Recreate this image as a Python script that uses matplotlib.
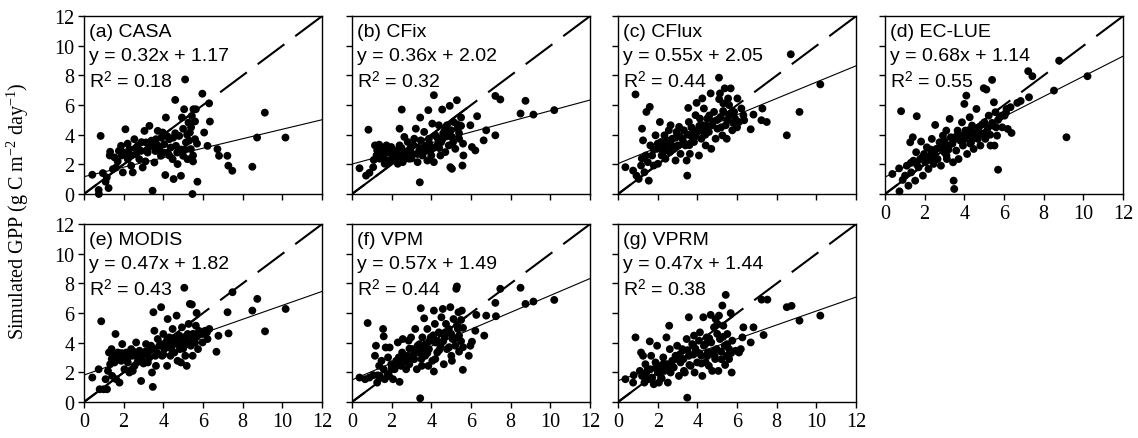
import matplotlib.pyplot as plt
import numpy as np

plt.rcParams['font.family'] = 'Liberation Serif'
plt.rcParams['mathtext.fontset'] = 'custom'
plt.rcParams['mathtext.rm'] = 'Liberation Serif'
plt.rcParams['mathtext.it'] = 'Liberation Serif:italic'
plt.rcParams['mathtext.sf'] = 'Liberation Sans'

# observed vs simulated GPP, one list of (obs, sim) pairs per model
casa = [(0.42, 1.30), (0.75, 0.00), (0.74, 0.27), (0.84, 3.92), (0.95, 1.41), (1.09, 0.83),
        (1.24, 0.40), (1.15, 1.12), (1.32, 2.85), (1.46, 1.68), (1.54, 2.47), (1.62, 1.79),
        (1.76, 2.91), (1.87, 3.25), (1.96, 1.46), (2.09, 4.37), (2.12, 2.69), (2.21, 2.35),
        (2.29, 3.03), (2.38, 1.91), (2.46, 1.46), (2.54, 3.70), (2.63, 2.69), (2.71, 3.25),
        (2.79, 2.35), (2.88, 2.91), (2.96, 1.79), (3.05, 4.26), (3.13, 3.48), (3.21, 2.80),
        (3.30, 4.60), (3.38, 3.25), (3.46, 0.22), (3.55, 2.13), (3.63, 3.70), (3.72, 4.26),
        (3.80, 3.03), (3.88, 2.58), (3.97, 4.15), (4.05, 3.36), (4.10, 1.28), (4.13, 5.16),
        (4.22, 2.80), (4.30, 3.70), (4.38, 3.14), (4.47, 2.35), (4.52, 1.01), (4.60, 6.35),
        (4.64, 3.25), (4.72, 2.02), (4.80, 3.92), (4.89, 1.23), (4.94, 5.16), (5.00, 2.58),
        (5.05, 5.72), (5.10, 7.73), (5.14, 3.48), (5.22, 2.35), (5.27, 4.82), (5.34, 4.15),
        (5.39, 3.03), (5.44, 5.27), (5.47, 0.00), (5.52, 5.72), (5.64, 5.72), (5.72, 0.83),
        (5.60, 3.70), (5.97, 6.77), (6.06, 4.15), (6.31, 6.12), (6.35, 4.89), (6.23, 3.25),
        (6.73, 3.03), (6.81, 2.58), (7.23, 2.58), (7.28, 1.91), (7.48, 1.57), (8.49, 1.84),
        (8.73, 3.81), (9.12, 5.49), (10.16, 3.81),
        (1.30, 2.60), (1.70, 2.20), (2.00, 2.80), (2.40, 2.60), (2.60, 3.10), (2.90, 3.50),
        (3.20, 3.00), (3.40, 3.60), (3.60, 2.90), (3.70, 3.30), (3.90, 3.80), (4.00, 2.80),
        (4.20, 3.90), (4.30, 2.60), (4.50, 3.80), (4.60, 4.10), (4.70, 2.80), (4.90, 3.00),
        (5.00, 4.40), (5.10, 3.00), (5.20, 4.00), (5.30, 3.60), (5.40, 4.50), (5.50, 2.60),
        (5.60, 4.90), (5.70, 3.40), (5.50, 2.20), (3.10, 2.20), (2.20, 3.40), (1.90, 2.60)]

cfix = [(0.38, 1.74), (0.71, 1.24), (0.88, 1.43), (0.83, 4.34), (1.07, 1.81), (1.16, 3.28),
        (1.24, 2.60), (1.27, 2.94), (1.37, 3.33), (1.40, 2.38), (1.54, 3.05), (1.60, 2.60),
        (1.65, 2.04), (1.74, 3.28), (1.82, 2.83), (1.90, 2.15), (1.98, 3.17), (2.07, 2.60),
        (2.15, 2.38), (2.23, 2.94), (2.31, 2.04), (2.40, 3.28), (2.40, 4.41), (2.48, 2.60),
        (2.51, 5.70), (2.56, 2.15), (2.64, 3.85), (2.73, 2.83), (2.81, 3.51), (2.89, 2.38),
        (2.98, 3.17), (3.06, 2.71), (3.14, 3.73), (3.22, 4.41), (3.31, 2.15), (3.39, 2.94),
        (3.42, 0.79), (3.44, 5.16), (3.47, 3.62), (3.55, 2.60), (3.64, 4.19), (3.72, 3.28),
        (3.80, 2.26), (3.85, 5.66), (3.88, 3.73), (3.97, 2.94), (4.05, 4.75), (4.13, 6.67),
        (4.13, 2.15), (4.21, 3.96), (4.30, 3.28), (4.38, 4.64), (4.46, 2.60), (4.55, 5.70),
        (4.58, 3.73), (4.68, 4.30), (4.71, 2.83), (4.79, 4.64), (4.88, 3.28), (4.93, 5.95),
        (4.96, 1.81), (5.04, 1.70), (5.04, 3.85), (5.12, 4.86), (5.21, 3.05), (5.29, 6.33),
        (5.34, 4.41), (5.40, 3.73), (5.50, 5.16), (5.57, 1.92), (5.62, 2.60), (5.97, 4.64),
        (6.05, 3.17), (6.22, 2.94), (6.31, 5.25), (6.64, 3.62), (6.77, 4.30), (7.23, 3.96),
        (7.23, 6.62), (7.48, 6.38), (8.50, 5.43), (8.75, 6.29), (9.15, 5.36), (10.20, 5.66),
        (1.30, 3.10), (1.50, 2.70), (1.70, 2.30), (1.90, 3.00), (2.10, 2.90), (2.30, 2.60),
        (2.50, 3.10), (2.70, 2.40), (2.90, 3.00), (3.10, 3.30), (3.30, 2.70), (3.50, 3.10),
        (3.70, 2.90), (3.90, 3.40), (4.10, 3.10), (4.30, 3.80), (4.50, 3.50), (4.60, 4.10),
        (4.80, 3.90), (5.00, 4.30), (5.10, 3.50), (5.30, 4.70), (5.40, 4.10), (5.50, 4.60),
        (5.60, 3.40), (1.10, 2.30), (2.00, 2.40), (3.00, 2.40), (4.00, 2.60), (4.40, 3.10)]

cflux = [(0.37, 1.81), (0.76, 1.58), (0.88, 6.72), (0.93, 1.24), (1.04, 1.02), (1.16, 1.92),
         (1.21, 4.41), (1.26, 3.62), (1.33, 1.47), (1.43, 5.54), (1.50, 2.15), (1.55, 0.90),
         (1.60, 5.88), (1.63, 3.28), (1.72, 2.60), (1.80, 1.92), (1.89, 3.96), (1.97, 3.05),
         (2.01, 2.04), (2.11, 4.86), (2.17, 3.51), (2.28, 2.83), (2.34, 3.96), (2.39, 2.38),
         (2.48, 3.28), (2.56, 4.30), (2.61, 2.83), (2.65, 4.64), (2.73, 3.73), (2.81, 3.05),
         (2.90, 2.26), (2.95, 4.19), (3.02, 3.28), (3.08, 4.53), (3.15, 2.71), (3.24, 3.73),
         (3.32, 4.30), (3.40, 3.28), (3.46, 2.26), (3.49, 1.24), (3.54, 5.81), (3.57, 4.86),
         (3.62, 2.71), (3.66, 3.96), (3.74, 4.41), (3.83, 3.51), (3.91, 5.32), (3.96, 6.15),
         (3.99, 4.19), (4.08, 2.60), (4.13, 5.09), (4.20, 3.73), (4.25, 6.45), (4.30, 4.64),
         (4.33, 5.77), (4.42, 3.28), (4.50, 5.09), (4.58, 4.19), (4.67, 6.79), (4.70, 3.05),
         (4.75, 4.64), (4.84, 5.54), (4.92, 3.73), (5.01, 4.41), (5.09, 7.85), (5.14, 6.79),
         (5.17, 5.20), (5.26, 3.96), (5.31, 6.11), (5.38, 7.13), (5.43, 4.64), (5.48, 3.73),
         (5.55, 6.45), (5.60, 5.32), (5.68, 7.13), (5.76, 4.30), (5.85, 5.54), (6.02, 6.45),
         (6.10, 4.86), (6.22, 5.77), (6.32, 5.32), (6.36, 4.98), (6.69, 4.37), (6.83, 5.36),
         (7.28, 5.77), (7.23, 4.98), (7.50, 4.86), (8.51, 3.96), (8.71, 9.43), (9.15, 5.54),
         (10.20, 7.40),
         (1.40, 2.60), (1.80, 3.00), (2.00, 3.40), (2.30, 3.10), (2.50, 3.60), (2.70, 3.30),
         (2.90, 3.80), (3.10, 3.90), (3.30, 3.50), (3.50, 4.00), (3.70, 4.50), (3.90, 3.90),
         (4.10, 4.60), (4.30, 4.20), (4.50, 4.60), (4.60, 5.30), (4.80, 4.90), (5.00, 5.00),
         (5.20, 4.50), (5.30, 5.60), (5.50, 5.00), (5.60, 6.00), (5.80, 4.80), (5.90, 5.10),
         (6.00, 4.50), (4.40, 4.00), (3.60, 3.30), (2.20, 2.60), (1.20, 2.40), (5.10, 6.40)]

eclue = [(0.37, 1.35), (0.71, 1.73), (0.73, 0.18), (0.81, 5.59), (0.89, 0.95), (1.01, 1.24),
         (1.10, 1.91), (1.18, 0.56), (1.27, 3.49), (1.32, 1.46), (1.40, 3.83), (1.43, 2.25),
         (1.52, 0.90), (1.57, 2.82), (1.60, 5.25), (1.69, 1.80), (1.77, 2.36), (1.82, 3.54),
         (1.91, 1.24), (1.97, 2.70), (2.03, 2.14), (2.11, 3.15), (2.19, 1.69), (2.28, 2.59),
         (2.36, 3.72), (2.45, 2.03), (2.53, 4.66), (2.58, 3.04), (2.65, 2.36), (2.75, 3.49),
         (2.82, 1.91), (2.92, 3.94), (2.99, 2.82), (3.09, 4.28), (3.12, 2.36), (3.21, 3.27),
         (3.26, 5.07), (3.32, 3.83), (3.43, 2.14), (3.46, 0.90), (3.49, 0.34), (3.54, 3.72),
         (3.59, 2.93), (3.66, 4.28), (3.71, 2.36), (3.80, 3.94), (3.88, 4.84), (3.93, 3.27),
         (4.00, 6.08), (4.05, 4.28), (4.10, 6.64), (4.14, 2.70), (4.22, 3.94), (4.27, 5.18),
         (4.34, 3.49), (4.39, 4.62), (4.47, 3.04), (4.56, 4.17), (4.61, 5.74), (4.68, 3.72),
         (4.73, 4.50), (4.81, 3.27), (4.89, 4.05), (4.98, 7.14), (5.01, 4.84), (5.06, 3.72),
         (5.11, 7.05), (5.15, 4.28), (5.23, 5.29), (5.32, 3.27), (5.40, 7.70), (5.45, 4.62),
         (5.49, 6.19), (5.52, 3.27), (5.57, 5.52), (5.65, 3.94), (5.70, 1.64), (5.79, 5.18),
         (5.91, 4.50), (6.03, 5.29), (6.13, 5.74), (6.19, 4.39), (6.33, 5.86), (6.38, 4.12),
         (6.67, 6.15), (6.84, 6.28), (7.26, 6.53), (7.22, 8.29), (7.43, 7.95), (8.52, 6.98),
         (8.78, 9.00), (9.15, 3.83), (10.21, 7.95),
         (1.30, 2.10), (1.60, 2.00), (1.90, 2.50), (2.10, 2.40), (2.30, 3.00), (2.50, 2.70),
         (2.70, 3.10), (2.90, 3.20), (3.00, 3.60), (3.20, 3.00), (3.40, 3.40), (3.60, 3.90),
         (3.80, 3.60), (4.00, 3.70), (4.20, 4.30), (4.40, 4.00), (4.50, 3.80), (4.70, 4.10),
         (4.90, 4.70), (5.00, 4.10), (5.20, 4.50), (5.30, 4.00), (5.40, 4.80), (5.60, 4.50),
         (5.70, 5.00), (5.90, 5.30), (6.10, 5.50), (3.10, 2.60), (2.40, 2.20), (4.30, 3.40)]

modis = [(0.42, 1.65), (0.74, 2.21), (0.79, 0.86), (0.87, 5.45), (0.99, 0.86), (1.09, 1.54),
         (1.16, 0.86), (1.21, 2.10), (1.26, 3.34), (1.32, 2.55), (1.39, 3.57), (1.42, 1.76),
         (1.49, 3.12), (1.54, 2.67), (1.59, 4.59), (1.62, 1.54), (1.71, 3.34), (1.79, 1.31),
         (1.88, 2.78), (1.93, 3.91), (1.99, 3.12), (2.04, 2.21), (2.13, 3.34), (2.21, 2.67),
         (2.29, 1.99), (2.38, 3.57), (2.43, 3.12), (2.46, 2.10), (2.55, 2.44), (2.63, 4.02),
         (2.71, 3.01), (2.80, 3.46), (2.88, 1.42), (2.96, 2.78), (3.05, 3.23), (3.13, 3.91),
         (3.22, 2.67), (3.30, 3.46), (3.38, 3.80), (3.43, 1.99), (3.47, 1.02), (3.50, 6.06),
         (3.55, 4.81), (3.60, 3.12), (3.63, 2.44), (3.72, 4.25), (3.80, 3.80), (3.89, 6.40),
         (3.94, 3.12), (4.00, 4.59), (4.05, 3.57), (4.14, 4.02), (4.19, 2.44), (4.22, 5.60),
         (4.30, 4.36), (4.36, 3.12), (4.44, 3.91), (4.47, 4.93), (4.56, 3.34), (4.61, 4.14),
         (4.67, 5.83), (4.72, 2.78), (4.81, 4.48), (4.84, 3.57), (4.89, 2.67), (4.94, 5.04),
         (5.01, 4.02), (5.06, 7.71), (5.11, 3.12), (5.18, 2.44), (5.23, 4.59), (5.28, 5.27),
         (5.34, 6.62), (5.39, 3.80), (5.44, 6.58), (5.48, 3.12), (5.56, 4.36), (5.64, 5.15),
         (5.68, 6.01), (5.75, 3.57), (5.90, 4.59), (5.98, 4.02), (6.11, 4.81), (6.23, 4.25),
         (6.32, 4.93), (6.68, 3.39), (6.78, 4.47), (7.24, 6.06), (7.29, 4.63), (7.49, 7.41),
         (8.49, 6.17), (8.74, 6.96), (9.13, 4.77), (10.17, 6.28),
         (1.40, 2.90), (1.70, 3.00), (1.90, 3.30), (2.20, 3.00), (2.50, 3.40), (2.70, 2.70),
         (2.90, 3.20), (3.10, 3.40), (3.30, 3.00), (3.50, 3.60), (3.70, 3.30), (3.90, 3.90),
         (4.10, 3.70), (4.20, 4.20), (4.40, 3.60), (4.50, 4.30), (4.70, 3.90), (4.80, 4.20),
         (5.00, 3.60), (5.10, 4.40), (5.20, 3.90), (5.30, 4.10), (5.50, 4.60), (5.60, 4.00),
         (5.70, 4.40), (5.80, 4.80), (6.00, 4.60), (6.20, 4.70), (4.00, 3.20), (3.00, 2.60)]

vpm = [(0.38, 1.65), (0.66, 1.54), (0.79, 5.33), (0.88, 1.65), (1.07, 1.81), (1.16, 3.12),
       (1.21, 3.80), (1.27, 1.31), (1.37, 2.44), (1.40, 1.76), (1.49, 2.78), (1.57, 4.93),
       (1.60, 4.43), (1.65, 1.54), (1.70, 3.68), (1.82, 3.01), (1.87, 1.76), (1.90, 3.68),
       (1.98, 2.55), (2.07, 1.54), (2.15, 2.21), (2.23, 2.78), (2.31, 4.02), (2.36, 3.01),
       (2.40, 1.36), (2.48, 2.44), (2.53, 3.34), (2.56, 4.25), (2.64, 2.78), (2.73, 2.21),
       (2.81, 3.12), (2.86, 4.14), (2.89, 2.55), (2.98, 4.36), (3.06, 3.57), (3.14, 2.89),
       (3.19, 4.93), (3.27, 2.21), (3.31, 3.80), (3.39, 3.34), (3.44, 0.25), (3.47, 6.33),
       (3.52, 2.44), (3.55, 4.36), (3.64, 5.65), (3.69, 3.12), (3.72, 3.91), (3.80, 4.93),
       (3.85, 2.44), (3.88, 3.57), (3.97, 4.36), (4.05, 2.78), (4.13, 2.06), (4.13, 6.17),
       (4.18, 5.27), (4.21, 4.02), (4.30, 3.34), (4.38, 4.70), (4.46, 3.80), (4.51, 5.72),
       (4.58, 6.28), (4.63, 2.55), (4.68, 4.36), (4.74, 5.27), (4.79, 3.57), (4.88, 4.93),
       (4.96, 6.40), (5.01, 3.12), (5.04, 2.78), (5.07, 4.25), (5.12, 5.60), (5.21, 3.80),
       (5.26, 7.64), (5.29, 7.80), (5.34, 4.93), (5.37, 6.06), (5.40, 4.48), (5.50, 5.54),
       (5.54, 6.17), (5.59, 2.17), (5.89, 3.12), (5.97, 3.80), (6.05, 4.07), (6.22, 4.81),
       (6.27, 5.88), (6.67, 4.48), (6.77, 5.83), (7.23, 6.69), (7.26, 5.79), (7.48, 7.64),
       (8.50, 7.71), (8.75, 6.62), (9.15, 6.78), (10.20, 6.89),
       (1.30, 1.80), (1.60, 2.20), (1.80, 1.90), (2.00, 2.30), (2.20, 2.60), (2.40, 2.90),
       (2.60, 3.00), (2.80, 2.70), (3.00, 3.10), (3.20, 3.30), (3.40, 3.90), (3.60, 3.60),
       (3.80, 3.30), (3.90, 4.10), (4.10, 4.50), (4.30, 4.10), (4.40, 3.50), (4.60, 4.10),
       (4.70, 4.70), (4.90, 3.70), (5.00, 4.60), (5.20, 4.30), (5.30, 5.20), (5.40, 3.40),
       (5.50, 4.10), (5.60, 3.70), (5.60, 5.00), (2.90, 3.60), (3.50, 2.90), (4.20, 2.90)]

vprm = [(0.37, 1.54), (0.76, 1.31), (0.79, 1.81), (0.88, 4.36), (1.10, 2.10), (1.16, 3.34),
        (1.21, 1.76), (1.26, 3.12), (1.33, 1.31), (1.38, 2.55), (1.43, 1.99), (1.50, 1.54),
        (1.60, 4.09), (1.63, 2.21), (1.67, 3.12), (1.72, 1.65), (1.80, 1.20), (1.89, 2.67),
        (1.97, 3.80), (2.01, 1.99), (2.06, 1.31), (2.14, 2.44), (2.17, 1.65), (2.28, 3.01),
        (2.34, 2.10), (2.44, 4.36), (2.48, 2.55), (2.51, 1.31), (2.58, 5.15), (2.61, 3.57),
        (2.65, 1.99), (2.73, 2.78), (2.81, 2.33), (2.90, 3.12), (2.98, 3.80), (3.07, 1.76),
        (3.15, 2.67), (3.24, 3.57), (3.32, 2.10), (3.37, 1.99), (3.46, 4.25), (3.49, 0.29),
        (3.57, 5.72), (3.57, 3.12), (3.66, 2.44), (3.74, 3.91), (3.83, 4.48), (3.86, 1.99),
        (3.91, 3.34), (3.99, 2.67), (4.08, 4.14), (4.13, 4.70), (4.20, 3.12), (4.25, 1.76),
        (4.30, 5.72), (4.33, 3.80), (4.42, 2.67), (4.47, 4.36), (4.53, 3.34), (4.58, 2.44),
        (4.67, 5.88), (4.70, 4.02), (4.75, 2.10), (4.84, 5.04), (4.87, 3.12), (4.92, 5.60),
        (4.97, 3.57), (5.01, 5.27), (5.06, 2.10), (5.09, 5.83), (5.14, 4.25), (5.21, 2.89),
        (5.26, 6.51), (5.31, 5.15), (5.38, 3.80), (5.43, 7.23), (5.48, 3.12), (5.51, 4.59),
        (5.60, 3.57), (5.68, 6.00), (5.73, 1.99), (5.76, 4.14), (5.93, 3.46), (6.10, 3.34),
        (6.19, 3.57), (6.27, 4.36), (6.32, 5.04), (6.69, 4.02), (6.83, 5.04), (7.24, 6.91),
        (7.34, 4.52), (7.53, 6.91), (8.51, 6.40), (8.75, 6.49), (9.15, 5.49), (10.20, 5.83),
        (1.30, 1.80), (1.50, 2.20), (1.70, 1.50), (1.90, 2.30), (2.10, 2.00), (2.30, 2.60),
        (2.50, 2.20), (2.70, 2.50), (2.90, 2.90), (3.10, 3.20), (3.30, 2.90), (3.50, 3.50),
        (3.60, 2.50), (3.80, 3.20), (3.90, 3.60), (4.10, 3.30), (4.20, 2.60), (4.40, 3.90),
        (4.50, 3.10), (4.60, 4.30), (4.80, 3.40), (4.90, 2.90), (5.00, 4.60), (5.20, 3.40),
        (5.30, 4.40), (5.40, 2.50), (5.50, 3.90), (5.60, 2.90), (5.70, 3.30), (2.20, 1.60)]

models = ['CASA', 'CFix', 'CFlux', 'EC-LUE', 'MODIS', 'VPM', 'VPRM']
letters = ['a', 'b', 'c', 'd', 'e', 'f', 'g']
points = [casa, cfix, cflux, eclue, modis, vpm, vprm]
slopes = [0.32, 0.36, 0.55, 0.68, 0.47, 0.57, 0.47]
intercepts = [1.17, 2.02, 2.05, 1.14, 1.82, 1.49, 1.44]
r2 = ['0.18', '0.32', '0.44', '0.55', '0.43', '0.44', '0.38']
ticks = [0, 2, 4, 6, 8, 10, 12]

fig = plt.figure(figsize=(11.38, 4.39), dpi=100)
lefts = [0.0738, 0.3093, 0.5431, 0.7777]
bottoms = [0.5558, 0.082]
w, h = 0.2091, 0.405

for i in range(7):
    row, col = i // 4, i % 4
    ax = fig.add_axes([lefts[col], bottoms[row], w, h])
    x, y = zip(*points[i])
    ax.scatter(x, y, s=32, c='k', edgecolors='none', zorder=3, clip_on=False)

    # regression line and 1:1 line
    xl = np.array([0, 12])
    ax.plot(xl, slopes[i] * xl + intercepts[i], color='k', lw=0.8)
    ax.plot([12, 0], [12, 0], color='k', lw=1.5, dashes=(16, 6.5))
    ax.plot([0, 5.76], [0, 5.76], color='k', lw=1.5)

    ax.set_xlim(0, 12)
    ax.set_ylim(0, 12)
    ax.set_xticks(ticks)
    ax.set_yticks(ticks)
    ax.tick_params(direction='out', length=4, width=1, labelsize=14.5, pad=3)
    if col != 0:
        ax.tick_params(labelleft=False)
    if row == 0 and col != 3:
        ax.tick_params(labelbottom=False)
    for s in ax.spines.values():
        s.set_linewidth(1)

    kw = dict(transform=ax.transAxes, family='Liberation Sans', fontsize=14, va='center')
    ax.text(0.02, 0.914, f'({letters[i]}) {models[i]}', **kw)
    ax.text(0.02, 0.777, f'y = {slopes[i]:.2f}x + {intercepts[i]:.2f}', **kw)
    ax.text(0.02, 0.64, f'R$^{{\\mathsf{{2}}}}$ = {r2[i]}', **kw)

fig.text(0.016, 0.52, 'Simulated GPP (g C m$^{-2}$ day$^{-1}$)', rotation=90,
         ha='center', va='center', fontsize=14.5)

fig.savefig('out.png', dpi=100)
